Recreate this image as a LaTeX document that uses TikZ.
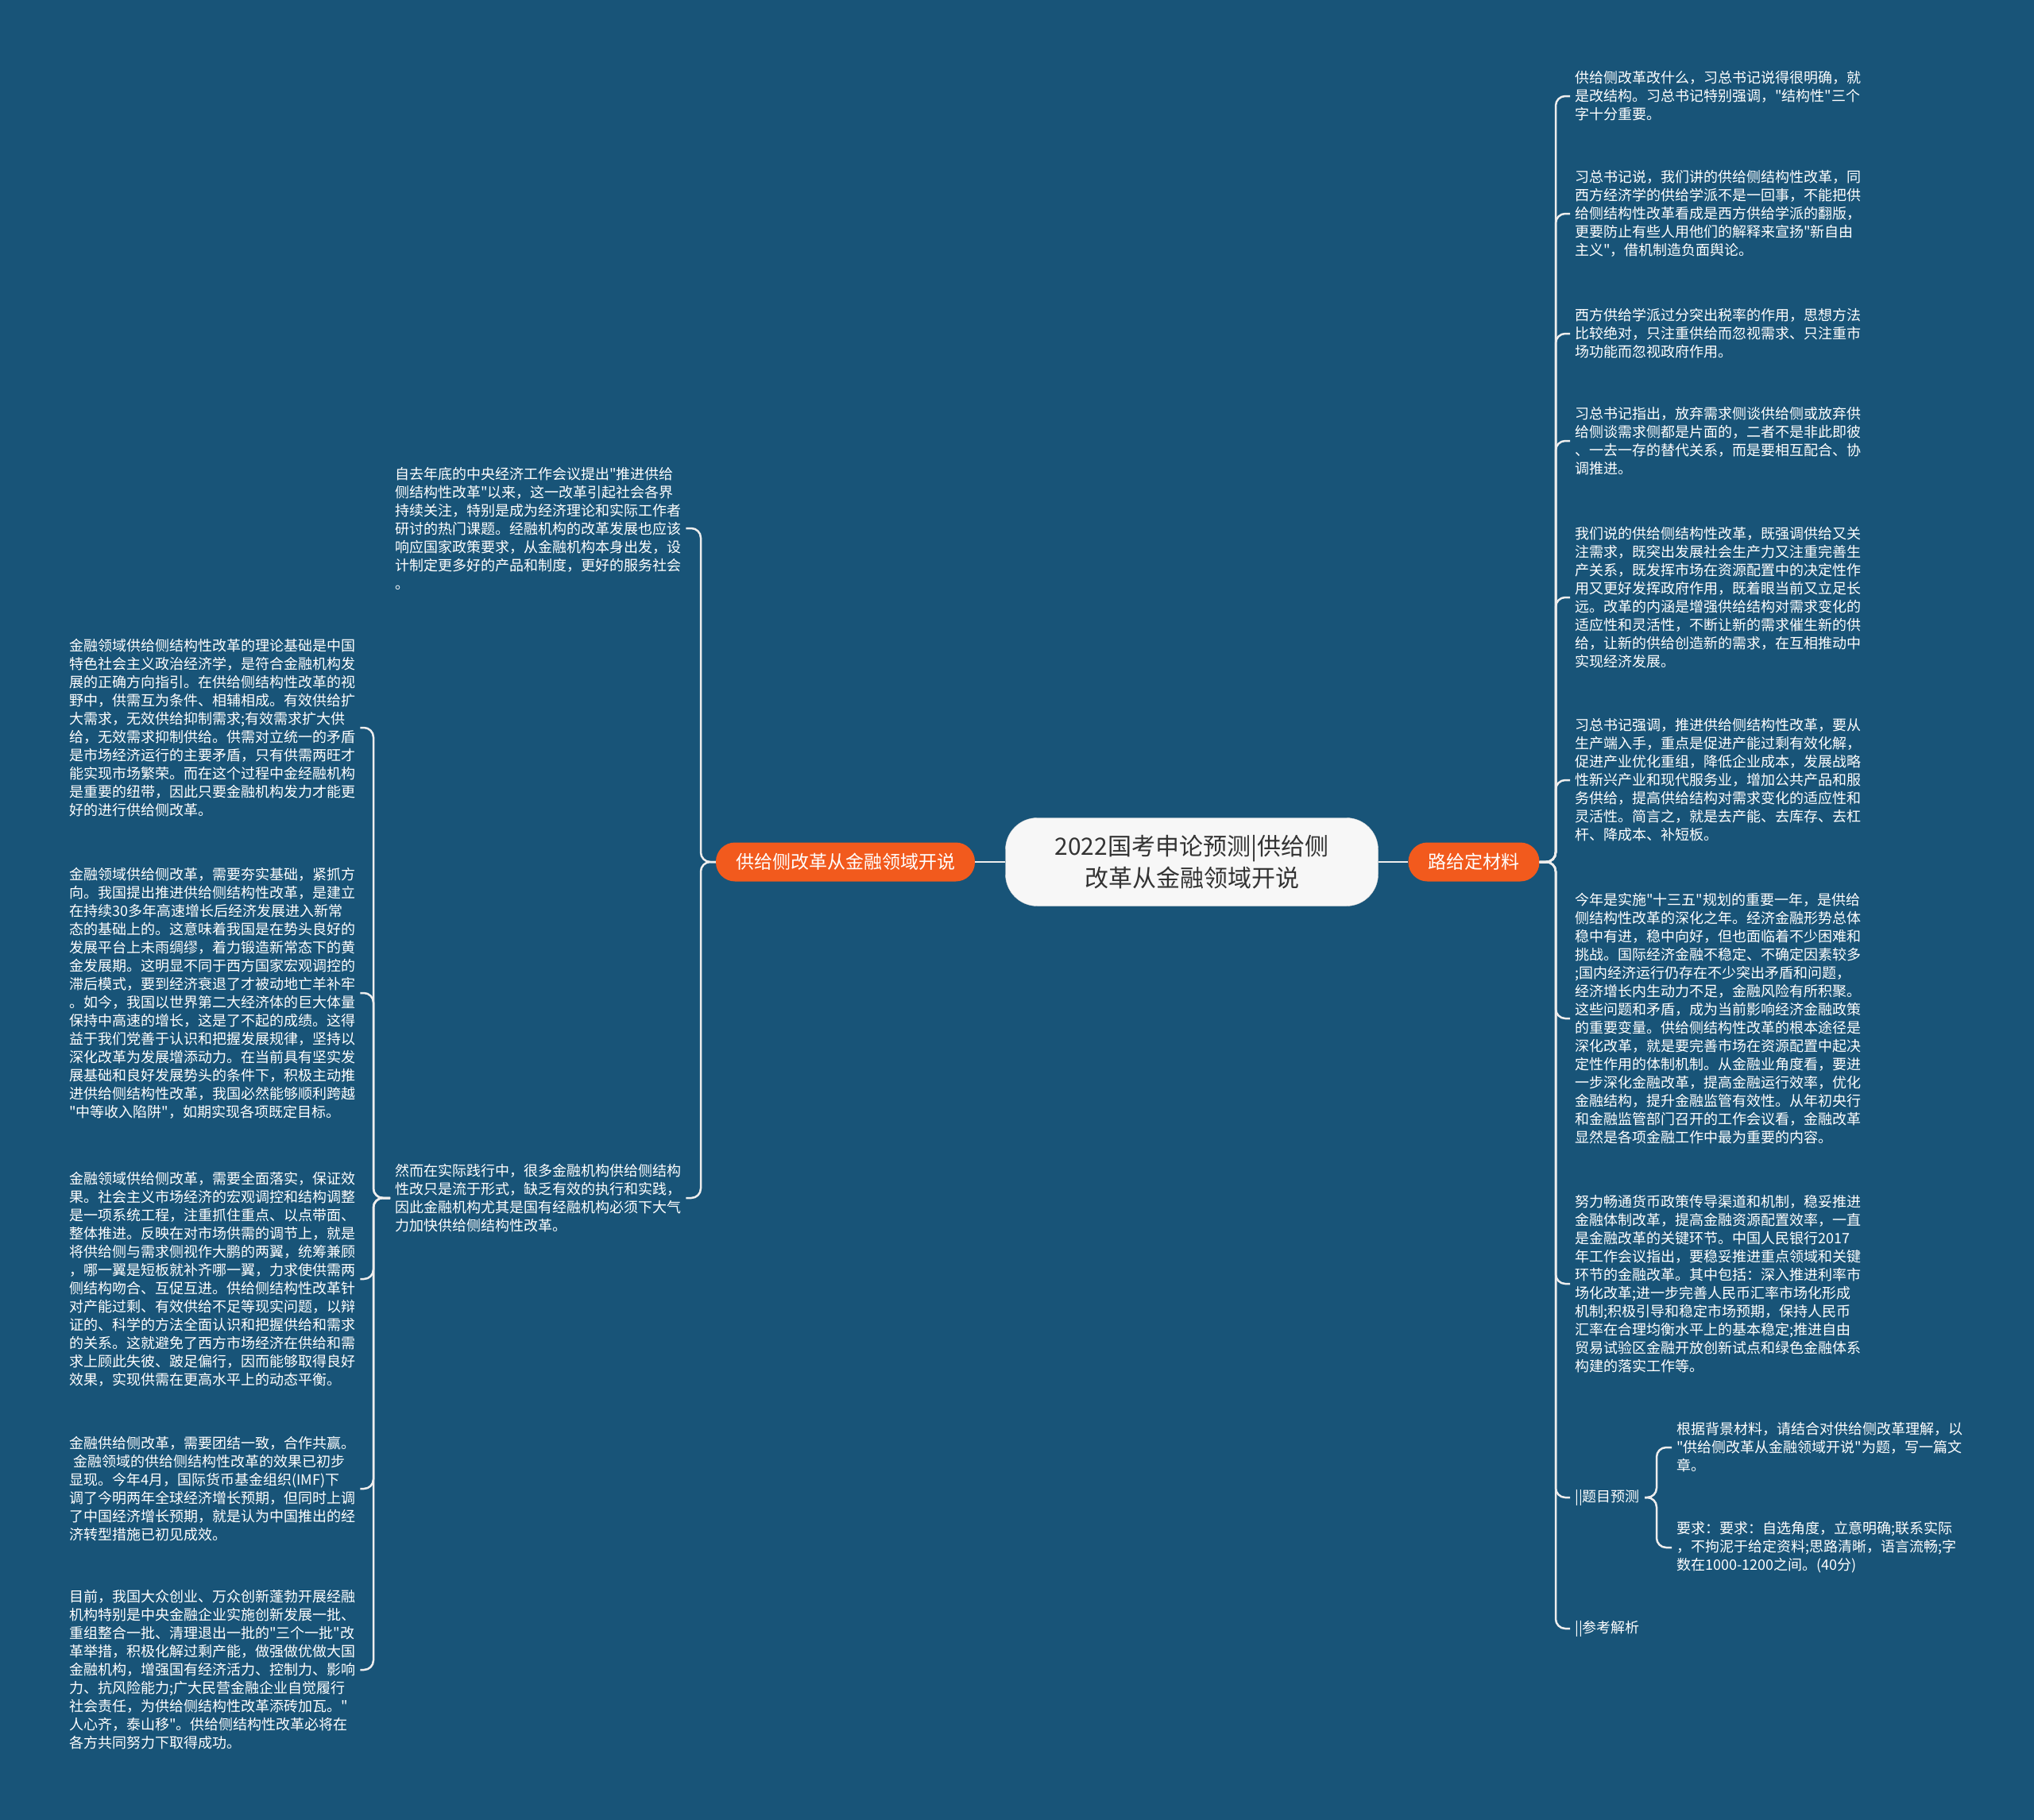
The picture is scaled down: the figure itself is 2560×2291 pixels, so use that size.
\documentclass[tikz,border=0pt]{standalone}
\usepackage{fontspec}
\newfontfamily\cjk{Noto Sans CJK SC}
\definecolor{bgblue}{HTML}{185478}
\definecolor{branchorange}{HTML}{F25A1D}
\definecolor{linkwhite}{HTML}{EDEDED}

\begin{document}
\begin{tikzpicture}[x=1pt,y=-1pt,
  topic/.style={draw=gray!30,fill=gray!6,rounded corners=40pt,minimum width=469pt,minimum height=111pt,align=center,text=black!80,font=\cjk\fontsize{30}{40}\selectfont},
  branch/.style={fill=branchorange,rounded corners=24pt,minimum height=49pt,inner xsep=25pt,inner ysep=0pt,text=white,font=\cjk\fontsize{23}{28}\selectfont},
  leaf/.style={anchor=west,align=left,inner xsep=6pt,inner ysep=0pt,text=white,font=\cjk\fontsize{18}{23}\selectfont},
  link/.style={draw=linkwhite,line width=2.5pt,rounded corners=12pt}
]
\fill[bgblue] (0,0) rectangle (2560,2291);
\useasboundingbox (0,0) rectangle (2560,2291);
\node[topic] (root) at (1500,1085) {2022国考申论预测|供给侧\\改革从金融领域开说};
\node[branch] (lb) at (1064,1085) {供给侧改革从金融领域开说};
\node[branch] (rb) at (1855,1085) {路给定材料};
\coordinate (lhub) at (882,1085);
\coordinate (rhub) at (1958,1085);
\node[leaf] (m1) at (491,665) {自去年底的中央经济工作会议提出"推进供给\\侧结构性改革"以来，这一改革引起社会各界\\持续关注，特别是成为经济理论和实际工作者\\研讨的热门课题。经融机构的改革发展也应该\\响应国家政策要求，从金融机构本身出发，设\\计制定更多好的产品和制度，更好的服务社会\\。};
\node[leaf] (m2) at (491,1508) {然而在实际践行中，很多金融机构供给侧结构\\性改只是流于形式，缺乏有效的执行和实践，\\因此金融机构尤其是国有经融机构必须下大气\\力加快供给侧结构性改革。};
\coordinate (mhub) at (470,1508);
\node[leaf] (l1) at (81,916) {金融领域供给侧结构性改革的理论基础是中国\\特色社会主义政治经济学，是符合金融机构发\\展的正确方向指引。在供给侧结构性改革的视\\野中，供需互为条件、相辅相成。有效供给扩\\大需求，无效供给抑制需求;有效需求扩大供\\给，无效需求抑制供给。供需对立统一的矛盾\\是市场经济运行的主要矛盾，只有供需两旺才\\能实现市场繁荣。而在这个过程中金经融机构\\是重要的纽带，因此只要金融机构发力才能更\\好的进行供给侧改革。};
\node[leaf] (l2) at (81,1250) {金融领域供给侧改革，需要夯实基础，紧抓方\\向。我国提出推进供给侧结构性改革，是建立\\在持续30多年高速增长后经济发展进入新常\\态的基础上的。这意味着我国是在势头良好的\\发展平台上未雨绸缪，着力锻造新常态下的黄\\金发展期。这明显不同于西方国家宏观调控的\\滞后模式，要到经济衰退了才被动地亡羊补牢\\。如今，我国以世界第二大经济体的巨大体量\\保持中高速的增长，这是了不起的成绩。这得\\益于我们党善于认识和把握发展规律，坚持以\\深化改革为发展增添动力。在当前具有坚实发\\展基础和良好发展势头的条件下，积极主动推\\进供给侧结构性改革，我国必然能够顺利跨越\\"中等收入陷阱"，如期实现各项既定目标。};
\node[leaf] (l3) at (81,1610) {金融领域供给侧改革，需要全面落实，保证效\\果。社会主义市场经济的宏观调控和结构调整\\是一项系统工程，注重抓住重点、以点带面、\\整体推进。反映在对市场供需的调节上，就是\\将供给侧与需求侧视作大鹏的两翼，统筹兼顾\\，哪一翼是短板就补齐哪一翼，力求使供需两\\侧结构吻合、互促互进。供给侧结构性改革针\\对产能过剩、有效供给不足等现实问题，以辩\\证的、科学的方法全面认识和把握供给和需求\\的关系。这就避免了西方市场经济在供给和需\\求上顾此失彼、跛足偏行，因而能够取得良好\\效果，实现供需在更高水平上的动态平衡。};
\node[leaf] (l4) at (81,1874) {金融供给侧改革，需要团结一致，合作共赢。\\\hspace*{5pt}金融领域的供给侧结构性改革的效果已初步\\显现。今年4月，国际货币基金组织(IMF)下\\调了今明两年全球经济增长预期，但同时上调\\了中国经济增长预期，就是认为中国推出的经\\济转型措施已初见成效。};
\node[leaf] (l5) at (81,2102) {目前，我国大众创业、万众创新蓬勃开展经融\\机构特别是中央金融企业实施创新发展一批、\\重组整合一批、清理退出一批的"三个一批"改\\革举措，积极化解过剩产能，做强做优做大国\\金融机构，增强国有经济活力、控制力、影响\\力、抗风险能力;广大民营金融企业自觉履行\\社会责任，为供给侧结构性改革添砖加瓦。"\\人心齐，泰山移"。供给侧结构性改革必将在\\各方共同努力下取得成功。};
\node[leaf] (r1) at (1976,121) {供给侧改革改什么，习总书记说得很明确，就\\是改结构。习总书记特别强调，"结构性"三个\\字十分重要。};
\node[leaf] (r2) at (1976,269) {习总书记说，我们讲的供给侧结构性改革，同\\西方经济学的供给学派不是一回事，不能把供\\给侧结构性改革看成是西方供给学派的翻版，\\更要防止有些人用他们的解释来宣扬"新自由\\主义"，借机制造负面舆论。};
\node[leaf] (r3) at (1976,420) {西方供给学派过分突出税率的作用，思想方法\\比较绝对，只注重供给而忽视需求、只注重市\\场功能而忽视政府作用。};
\node[leaf] (r4) at (1976,555) {习总书记指出，放弃需求侧谈供给侧或放弃供\\给侧谈需求侧都是片面的，二者不是非此即彼\\、一去一存的替代关系，而是要相互配合、协\\调推进。};
\node[leaf] (r5) at (1976,752) {我们说的供给侧结构性改革，既强调供给又关\\注需求，既突出发展社会生产力又注重完善生\\产关系，既发挥市场在资源配置中的决定性作\\用又更好发挥政府作用，既着眼当前又立足长\\远。改革的内涵是增强供给结构对需求变化的\\适应性和灵活性，不断让新的需求催生新的供\\给，让新的供给创造新的需求，在互相推动中\\实现经济发展。};
\node[leaf] (r6) at (1976,982) {习总书记强调，推进供给侧结构性改革，要从\\生产端入手，重点是促进产能过剩有效化解，\\促进产业优化重组，降低企业成本，发展战略\\性新兴产业和现代服务业，增加公共产品和服\\务供给，提高供给结构对需求变化的适应性和\\灵活性。简言之，就是去产能、去库存、去杠\\杆、降成本、补短板。};
\node[leaf] (r7) at (1976,1282) {今年是实施"十三五"规划的重要一年，是供给\\侧结构性改革的深化之年。经济金融形势总体\\稳中有进，稳中向好，但也面临着不少困难和\\挑战。国际经济金融不稳定、不确定因素较多\\;国内经济运行仍存在不少突出矛盾和问题，\\经济增长内生动力不足，金融风险有所积聚。\\这些问题和矛盾，成为当前影响经济金融政策\\的重要变量。供给侧结构性改革的根本途径是\\深化改革，就是要完善市场在资源配置中起决\\定性作用的体制机制。从金融业角度看，要进\\一步深化金融改革，提高金融运行效率，优化\\金融结构，提升金融监管有效性。从年初央行\\和金融监管部门召开的工作会议看，金融改革\\显然是各项金融工作中最为重要的内容。};
\node[leaf] (r8) at (1976,1616) {努力畅通货币政策传导渠道和机制，稳妥推进\\金融体制改革，提高金融资源配置效率，一直\\是金融改革的关键环节。中国人民银行2017\\年工作会议指出，要稳妥推进重点领域和关键\\环节的金融改革。其中包括：深入推进利率市\\场化改革;进一步完善人民币汇率市场化形成\\机制;积极引导和稳定市场预期，保持人民币\\汇率在合理均衡水平上的基本稳定;推进自由\\贸易试验区金融开放创新试点和绿色金融体系\\构建的落实工作等。};
\node[leaf] (tm) at (1976,1885) {||题目预测};
\node[leaf] (ck) at (1976,2050) {||参考解析};
\coordinate (thub) at (2085,1885);
\node[leaf] (t1) at (2104,1822) {根据背景材料，请结合对供给侧改革理解，以\\"供给侧改革从金融领域开说"为题，写一篇文\\章。};
\node[leaf] (t2) at (2104,1948) {要求：要求：自选角度，立意明确;联系实际\\，不拘泥于给定资料;思路清晰，语言流畅;字\\数在1000-1200之间。(40分)};
\draw[link] (root.west) -- (lb.east);
\draw[link] (root.east) -- (rb.west);
\draw[link] (lb.west) -- (lhub) |- (m1.east);
\draw[link] (lb.west) -- (lhub) |- (m2.east);
\draw[link] (m2.west) -- (mhub) |- (l1.east);
\draw[link] (m2.west) -- (mhub) |- (l2.east);
\draw[link] (m2.west) -- (mhub) |- (l3.east);
\draw[link] (m2.west) -- (mhub) |- (l4.east);
\draw[link] (m2.west) -- (mhub) |- (l5.east);
\draw[link] (rb.east) -- (rhub) |- (r1.west);
\draw[link] (rb.east) -- (rhub) |- (r2.west);
\draw[link] (rb.east) -- (rhub) |- (r3.west);
\draw[link] (rb.east) -- (rhub) |- (r4.west);
\draw[link] (rb.east) -- (rhub) |- (r5.west);
\draw[link] (rb.east) -- (rhub) |- (r6.west);
\draw[link] (rb.east) -- (rhub) |- (r7.west);
\draw[link] (rb.east) -- (rhub) |- (r8.west);
\draw[link] (rb.east) -- (rhub) |- (tm.west);
\draw[link] (rb.east) -- (rhub) |- (ck.west);
\draw[link] (tm.east) -- (thub) |- (t1.west);
\draw[link] (tm.east) -- (thub) |- (t2.west);
\end{tikzpicture}
\end{document}
